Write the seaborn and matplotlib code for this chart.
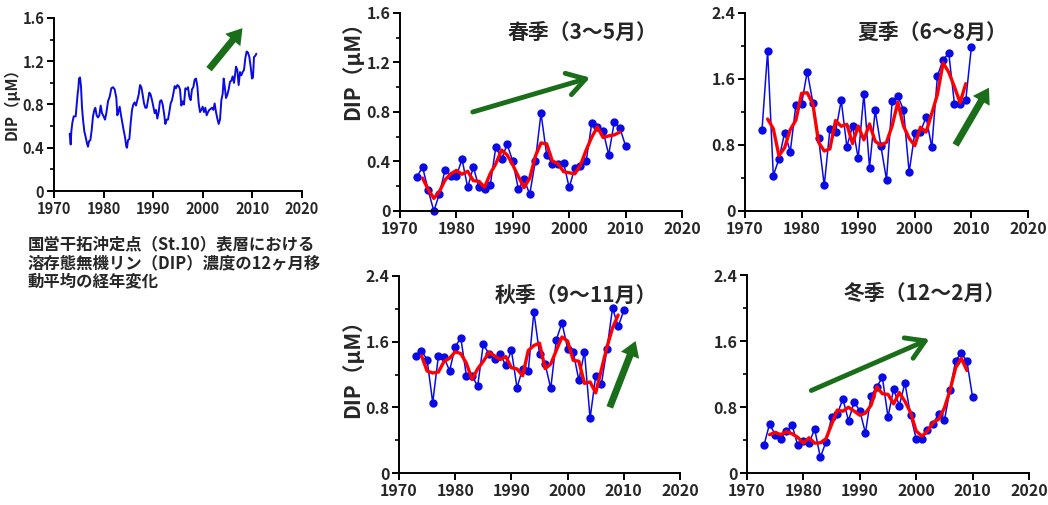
import numpy as np
import pandas as pd
import matplotlib
matplotlib.use("Agg")
import matplotlib.pyplot as plt
import seaborn as sns
from matplotlib.ticker import MultipleLocator, FuncFormatter

sns.set_style("ticks")
plt.rcParams['font.family'] = ['Noto Sans CJK JP', 'DejaVu Sans']
plt.rcParams['font.weight'] = 'bold'
plt.rcParams['axes.labelweight'] = 'bold'

# ---------------- data ----------------
years = list(range(1973, 2011))
ma_years = list(range(1974, 2010))

spring = [0.275, 0.356, 0.167, 0.0, 0.14, 0.334, 0.283, 0.283, 0.418, 0.19,
          0.356, 0.19, 0.175, 0.21, 0.52, 0.418, 0.54, 0.40, 0.175, 0.256,
          0.135, 0.404, 0.79, 0.455, 0.383, 0.377, 0.388, 0.19, 0.348, 0.364,
          0.40, 0.71, 0.68, 0.647, 0.455, 0.72, 0.67, 0.525]
spring_ma = [0.266, 0.174, 0.102, 0.158, 0.252, 0.300, 0.328, 0.297, 0.321, 0.245,
             0.240, 0.192, 0.302, 0.383, 0.493, 0.453, 0.372, 0.277, 0.189, 0.265,
             0.443, 0.550, 0.543, 0.405, 0.383, 0.318, 0.309, 0.301, 0.371, 0.491,
             0.597, 0.679, 0.594, 0.607, 0.615, 0.638]

summer = [0.98, 1.935, 0.43, 0.63, 0.95, 0.72, 1.29, 1.30, 1.69, 1.31,
          0.88, 0.31, 0.99, 0.96, 1.34, 0.78, 1.03, 0.64, 1.42, 0.525,
          1.22, 0.79, 0.38, 1.33, 1.39, 1.23, 0.47, 0.945, 0.96, 1.14,
          0.77, 1.64, 1.83, 1.915, 1.30, 1.30, 1.34, 1.99]
summer_ma = [1.115, 0.998, 0.670, 0.767, 0.987, 1.103, 1.427, 1.433, 1.293, 0.833,
             0.727, 0.753, 1.097, 1.027, 1.050, 0.817, 1.030, 0.862, 1.055, 0.845,
             0.797, 0.833, 1.033, 1.317, 1.030, 0.882, 0.792, 1.015, 0.957, 1.183,
             1.413, 1.795, 1.682, 1.505, 1.313, 1.543]

autumn = [1.42, 1.49, 1.38, 0.857, 1.42, 1.41, 1.245, 1.54, 1.645, 1.18,
          1.18, 1.06, 1.57, 1.45, 1.385, 1.45, 1.31, 1.495, 1.04, 1.27,
          1.245, 1.96, 1.455, 1.33, 1.03, 1.625, 1.83, 1.515, 1.475, 1.13,
          1.48, 0.667, 1.18, 1.08, 1.51, 2.01, 1.785, 1.98]
autumn_ma = [1.430, 1.242, 1.219, 1.229, 1.358, 1.398, 1.477, 1.455, 1.335, 1.140,
             1.270, 1.360, 1.468, 1.428, 1.382, 1.418, 1.282, 1.268, 1.185, 1.492,
             1.553, 1.582, 1.272, 1.328, 1.495, 1.657, 1.607, 1.373, 1.362, 1.092,
             1.109, 0.976, 1.257, 1.533, 1.768, 1.925]

winter = [0.335, 0.594, 0.465, 0.416, 0.513, 0.578, 0.335, 0.384, 0.364, 0.533,
          0.19, 0.376, 0.675, 0.715, 0.897, 0.634, 0.86, 0.755, 0.485, 0.937,
          1.042, 1.16, 0.68, 1.018, 0.816, 1.09, 0.70, 0.412, 0.412, 0.517,
          0.598, 0.72, 0.638, 1.01, 1.362, 1.455, 1.353, 0.917]
winter_ma = [0.465, 0.492, 0.465, 0.502, 0.475, 0.432, 0.361, 0.427, 0.362, 0.366,
             0.414, 0.589, 0.762, 0.749, 0.797, 0.750, 0.700, 0.726, 0.821, 1.046,
             0.961, 0.953, 0.838, 0.975, 0.869, 0.734, 0.508, 0.447, 0.509, 0.612,
             0.652, 0.789, 1.003, 1.276, 1.390, 1.242]

# 12-month moving average
annual_t = [1973.16, 1973.36, 1973.49, 1973.70, 1973.97, 1974.37, 1974.64, 1974.77, 1974.91, 1975.04,
            1975.24, 1975.44, 1975.65, 1975.85, 1976.12, 1976.38, 1976.65, 1976.85, 1977.06, 1977.33,
            1977.59, 1977.86, 1978.13, 1978.33, 1978.60, 1978.87, 1979.14, 1979.41, 1979.68, 1980.01,
            1980.28, 1980.55, 1980.89, 1981.22, 1981.56, 1981.90, 1982.23, 1982.57, 1982.77, 1982.97,
            1983.24, 1983.51, 1983.78, 1984.05, 1984.31, 1984.58, 1984.72, 1984.92, 1985.19, 1985.46,
            1985.73, 1985.99, 1986.26, 1986.53, 1986.80, 1987.07, 1987.34, 1987.61, 1987.88, 1988.15,
            1988.41, 1988.68, 1988.95, 1989.22, 1989.49, 1989.76, 1990.03, 1990.30, 1990.56, 1990.83,
            1991.10, 1991.37, 1991.64, 1991.91, 1992.18, 1992.45, 1992.72, 1992.98, 1993.25, 1993.52,
            1993.79, 1994.06, 1994.33, 1994.60, 1994.87, 1995.13, 1995.40, 1995.67, 1995.94, 1996.21,
            1996.48, 1996.75, 1997.02, 1997.28, 1997.55, 1997.82, 1998.09, 1998.36, 1998.63, 1998.90,
            1999.17, 1999.44, 1999.70, 1999.97, 2000.24, 2000.51, 2000.78, 2001.05, 2001.32, 2001.59,
            2001.85, 2002.12, 2002.39, 2002.66, 2002.93, 2003.20, 2003.47, 2003.74, 2004.01, 2004.21,
            2004.41, 2004.68, 2004.95, 2005.22, 2005.48, 2005.75, 2006.02, 2006.29, 2006.49, 2006.69,
            2006.96, 2007.23, 2007.50, 2007.77, 2008.04, 2008.31, 2008.58, 2008.84, 2009.11, 2009.38,
            2009.65, 2009.92, 2010.12, 2010.32, 2010.59, 2010.79]
annual_v = [0.53, 0.43, 0.55, 0.63, 0.69, 0.69, 0.84, 0.90, 0.95, 1.04,
            1.05, 0.97, 0.77, 0.66, 0.55, 0.50, 0.44, 0.41, 0.46, 0.47,
            0.56, 0.69, 0.75, 0.77, 0.70, 0.68, 0.70, 0.79, 0.72, 0.69,
            0.66, 0.72, 0.83, 0.87, 0.95, 0.96, 0.94, 0.86, 0.70, 0.73,
            0.78, 0.70, 0.63, 0.56, 0.50, 0.41, 0.40, 0.47, 0.48, 0.63,
            0.75, 0.80, 0.82, 0.79, 0.84, 0.89, 0.98, 0.96, 0.89, 0.81,
            0.77, 0.77, 0.84, 0.91, 0.89, 0.84, 0.78, 0.72, 0.75, 0.67,
            0.73, 0.83, 0.84, 0.80, 0.72, 0.62, 0.66, 0.66, 0.73, 0.81,
            0.84, 0.90, 0.97, 0.95, 0.98, 0.97, 0.94, 0.79, 0.83, 0.80,
            0.95, 0.94, 0.96, 0.87, 0.84, 0.94, 0.96, 1.03, 1.04, 0.97,
            0.81, 0.73, 0.75, 0.78, 0.73, 0.77, 0.70, 0.73, 0.75, 0.76,
            0.77, 0.75, 0.81, 0.73, 0.67, 0.62, 0.66, 0.84, 0.90, 1.04,
            0.97, 0.86, 0.89, 0.94, 1.01, 1.02, 1.06, 1.00, 1.07, 1.15,
            1.12, 0.98, 1.10, 1.07, 1.10, 1.12, 1.23, 1.29, 1.28, 1.24,
            1.15, 1.04, 1.05, 1.24, 1.25, 1.27]

titles = ['春季（3～5月）', '夏季（6～8月）', '秋季（9～11月）', '冬季（12～2月）']
ylabel = 'DIP（μM）'
caption = ['国営干拓沖定点（St.10）表層における',
           '溶存態無機リン（DIP）濃度の12ヶ月移',
           '動平均の経年変化']

BLUE = '#0a0ae6'
RED = '#ff0000'
GREEN = '#1a6e1a'

W, H = 1048, 505
fig = plt.figure(figsize=(W / 100, H / 100), dpi=100)


def px_axes(x0, x1, ytop, ybot):
    return fig.add_axes([x0 / W, 1 - ybot / H, (x1 - x0) / W, (ybot - ytop) / H])


fmt = FuncFormatter(lambda v, _: '0' if abs(v) < 1e-9 else f'{v:.1f}')


def style(ax, ymax, ystep, labelsize=11.5):
    ax.set_xlim(1970, 2020)
    ax.set_ylim(0, ymax)
    ax.xaxis.set_major_locator(MultipleLocator(10))
    ax.yaxis.set_major_locator(MultipleLocator(ystep))
    ax.yaxis.set_minor_locator(MultipleLocator(ystep / 2))
    ax.yaxis.set_major_formatter(fmt)
    for s in ['top', 'right']:
        ax.spines[s].set_visible(False)
    for s in ['left', 'bottom']:
        ax.spines[s].set_linewidth(1.4)
        ax.spines[s].set_color('black')
    ax.tick_params(which='major', direction='out', length=5, width=1.4,
                   labelsize=labelsize, color='black', pad=2)
    ax.tick_params(which='minor', direction='out', length=3, width=1.2, color='black')
    for lbl in ax.get_xticklabels() + ax.get_yticklabels():
        lbl.set_fontweight('bold')
    ax.set_xlabel('')
    ax.set_ylabel('')
    ax.patch.set_alpha(0)


def arrow(ax, tail, head, filled):
    if filled:
        props = dict(arrowstyle='simple,head_length=1.1,head_width=1.4,tail_width=0.5',
                     color=GREEN, mutation_scale=10, shrinkA=0, shrinkB=0, lw=0)
    else:
        props = dict(arrowstyle='->,head_length=0.65,head_width=0.4',
                     color=GREEN, lw=3.5, mutation_scale=20, shrinkA=0, shrinkB=0)
    ax.annotate('', xy=head, xytext=tail, arrowprops=props)


# top-left annual chart
ax0 = px_axes(54, 302, 18, 191)
sns.lineplot(x=annual_t, y=annual_v, ax=ax0, color=BLUE, lw=1.4, estimator=None, sort=False)
style(ax0, 1.6, 0.4, labelsize=10.5)
arrow(ax0, (2001.25, 1.127), (2008.0, 1.506), True)
fig.text(12 / W, 1 - 100 / H, ylabel, rotation=90, ha='center', va='center',
         fontsize=11, fontweight='bold')

for i, line in enumerate(caption):
    fig.text(28 / W, 1 - (244 + 19 * i) / H, line, ha='left', va='center',
             fontsize=11.8, fontweight='bold')

panels = [
    dict(box=(400, 682, 13, 211), y=spring, ma=spring_ma, ymax=1.6, step=0.4,
         title=titles[0], tpos=(582, 32), arrow=((1982.9, 0.80), (2003.7, 1.078)), filled=False),
    dict(box=(745, 1028, 13, 211), y=summer, ma=summer_ma, ymax=2.4, step=0.8,
         title=titles[1], tpos=(932, 32), arrow=((2007.2, 0.80), (2013.1, 1.495)), filled=True),
    dict(box=(399, 680, 276, 473), y=autumn, ma=autumn_ma, ymax=2.4, step=0.8,
         title=titles[2], tpos=(576, 295), arrow=((2007.5, 0.80), (2012.1, 1.608)), filled=True),
    dict(box=(747, 1029, 275, 473), y=winter, ma=winter_ma, ymax=2.4, step=0.8,
         title=titles[3], tpos=(925, 293), arrow=((1981.4, 1.0), (2002.35, 1.624)), filled=False),
]

for p in panels:
    ax = px_axes(*p['box'])
    sns.lineplot(x=years, y=p['y'], ax=ax, color=BLUE, lw=1.1, marker='o',
                 markersize=6, markeredgewidth=0, markerfacecolor=BLUE,
                 estimator=None, sort=False, clip_on=False)
    sns.lineplot(x=ma_years, y=p['ma'], ax=ax, color=RED, lw=2.4,
                 estimator=None, sort=False)
    style(ax, p['ymax'], p['step'])
    arrow(ax, p['arrow'][0], p['arrow'][1], p['filled'])
    fig.text(p['tpos'][0] / W, 1 - p['tpos'][1] / H, p['title'], ha='center', va='center',
             fontsize=15, fontweight='bold')

fig.text(352 / W, 1 - 65 / H, ylabel, rotation=90, ha='center', va='center',
         fontsize=15, fontweight='bold')
fig.text(352 / W, 1 - 364 / H, ylabel, rotation=90, ha='center', va='center',
         fontsize=15, fontweight='bold')

fig.savefig('out.png', dpi=100)
